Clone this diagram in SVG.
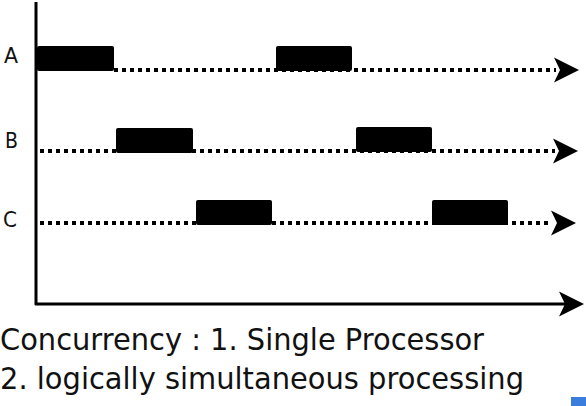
<svg xmlns="http://www.w3.org/2000/svg" xmlns:xlink="http://www.w3.org/1999/xlink" width="586" height="406" viewBox="0 0 586 406">
  <style>
    .bar { fill: #000; }
    .dots { stroke: #000; stroke-width: 4; stroke-dasharray: 4 4; fill: none; }
    .axis { stroke: #000; stroke-width: 3; fill: none; }
    .lbl { font-family: "DejaVu Sans", "Liberation Sans", sans-serif; font-size: 22px; fill: #111; }
    .cap { font-family: "DejaVu Sans", "Liberation Sans", sans-serif; font-size: 30px; fill: #111; }
  </style>
  <defs>
    <path id="ah" d="M0,0 L-25,-12.5 L-19,0 L-25,12.5 Z" fill="#000"/>
  </defs>
  <rect width="586" height="406" fill="#fff"/>

  <g id="connectors">
    <line class="axis" x1="36" y1="2" x2="36" y2="305"/>
    <line class="axis" x1="35" y1="304" x2="566" y2="304"/>
    <use xlink:href="#ah" x="584" y="304"/>
    <line class="dots" x1="114" y1="70" x2="556" y2="70"/>
    <use xlink:href="#ah" x="579" y="70"/>
    <line class="dots" x1="40" y1="151" x2="555" y2="151"/>
    <use xlink:href="#ah" x="578" y="151"/>
    <line class="dots" x1="40" y1="223" x2="552" y2="223"/>
    <use xlink:href="#ah" x="576" y="223"/>
  </g>

  <g id="rowA">
    <text class="lbl" x="4" y="63" textLength="14" lengthAdjust="spacingAndGlyphs">A</text>
    <rect class="bar" x="37" y="46" width="77" height="25" rx="2"/>
    <rect class="bar" x="276" y="46" width="76" height="25" rx="2"/>
  </g>
  <g id="rowB">
    <text class="lbl" x="5" y="148" textLength="13" lengthAdjust="spacingAndGlyphs">B</text>
    <rect class="bar" x="116" y="128" width="77" height="25" rx="2"/>
    <rect class="bar" x="356" y="127" width="76" height="25" rx="2"/>
  </g>
  <g id="rowC">
    <text class="lbl" x="3" y="227" textLength="14" lengthAdjust="spacingAndGlyphs">C</text>
    <rect class="bar" x="196" y="200" width="76" height="25" rx="2"/>
    <rect class="bar" x="432" y="200" width="76" height="25" rx="2"/>
  </g>

  <g id="caption">
    <text class="cap" x="0" y="350" textLength="484" lengthAdjust="spacingAndGlyphs">Concurrency : 1. Single Processor</text>
    <text class="cap" x="0" y="389" textLength="524" lengthAdjust="spacingAndGlyphs">2. logically simultaneous processing</text>
  </g>
  <rect x="571" y="397" width="15" height="9" fill="#3b7ddd"/>
</svg>
